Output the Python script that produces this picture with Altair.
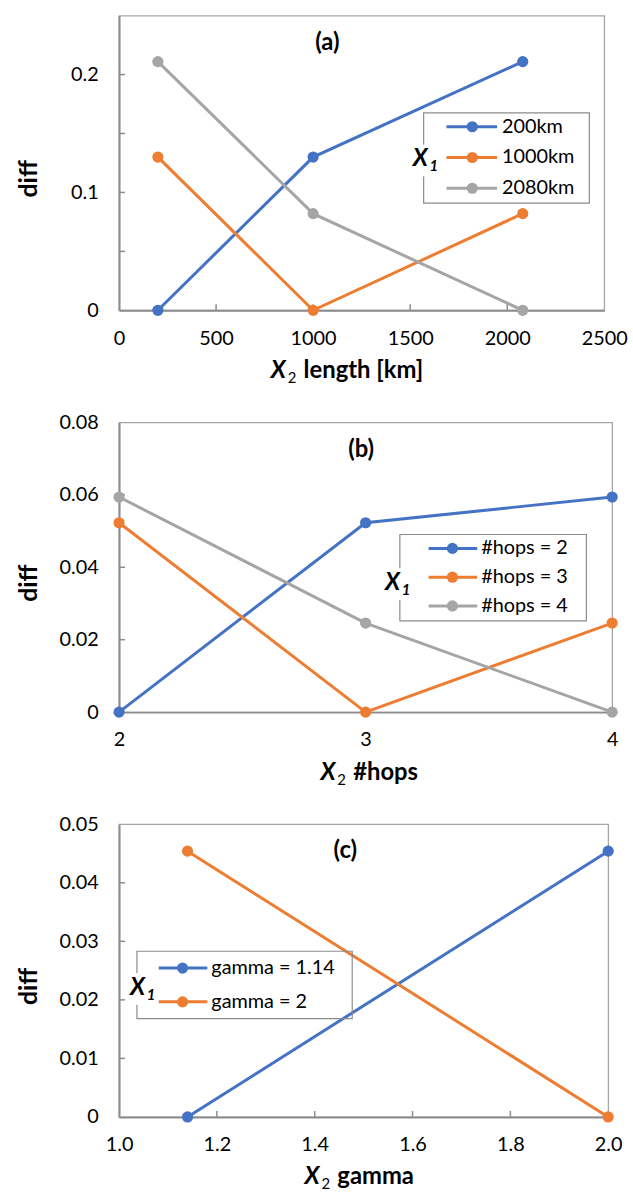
import altair as alt
import pandas as pd

FONT = "Lato"
COLORS = ["#4472C4", "#ED7D31", "#A5A5A5"]
AXIS_GRAY = "#8c8c8c"

# ---------------- data ----------------
# Panel (a)
a_x = [200, 1000, 2080]
a_series = ["200km", "1000km", "2080km"]
a_values = [
    [0.0, 0.130, 0.211],
    [0.130, 0.0, 0.082],
    [0.211, 0.082, 0.0],
]
a_xlabels = [0, 500, 1000, 1500, 2000, 2500]
a_xticks = [500, 1000, 1500, 2000]
a_ylabels = [0, 0.1, 0.2]
a_yticks = [0.05, 0.1, 0.15, 0.2]

# Panel (b)
b_x = [2, 3, 4]
b_series = ["#hops = 2", "#hops = 3", "#hops = 4"]
b_values = [
    [0.0, 0.0523, 0.0594],
    [0.0523, 0.0, 0.0246],
    [0.0594, 0.0246, 0.0],
]
b_xlabels = [2.0, 3.0, 4.0]
b_xticks = []
b_ylabels = [0, 0.02, 0.04, 0.06, 0.08]
b_yticks = [0.02, 0.04, 0.06]

# Panel (c)
c_x = [1.14, 2.0]
c_series = ["gamma = 1.14", "gamma = 2"]
c_values = [
    [0.0, 0.0454],
    [0.0454, 0.0],
]
c_xlabels = [1.0, 1.2, 1.4, 1.6, 1.8, 2.0]
c_xticks = [1.2, 1.4, 1.6, 1.8]
c_ylabels = [0, 0.01, 0.02, 0.03, 0.04, 0.05]
c_yticks = [0.01, 0.02, 0.03, 0.04]


def long_df(xs, series, values):
    rows = []
    for s, vals in zip(series, values):
        for x, v in zip(xs, vals):
            rows.append({"x": float(x), "diff": float(v), "series": s})
    return pd.DataFrame(rows)


def one():
    return pd.DataFrame({"k": [0]})


def txt(text, x, y, size, bold=True, italic=False, align="left", angle=0):
    kw = dict(align=align, baseline="middle", fontSize=size, font=FONT,
              fontWeight="bold" if bold else "normal",
              fontStyle="italic" if italic else "normal", color="black")
    if angle:
        kw["angle"] = angle
    return alt.Chart(pd.DataFrame({"t": [text]})).mark_text(**kw).encode(
        x=alt.value(x), y=alt.value(y), text="t:N")


def panel(xs, series, values, W, H, xdom, ydom, xlabels, xfmt, xticks,
          ylabels, yticks, tag, tag_xy, xtitle, xtitle_x, leg):
    df = long_df(xs, series, values)
    cscale = alt.Scale(domain=series, range=COLORS[:len(series)])
    color = alt.Color("series:N", scale=cscale, legend=None)
    xs_ = alt.Scale(domain=xdom, nice=False, zero=False)
    ys_ = alt.Scale(domain=ydom, nice=False, zero=False)
    xaxis = alt.Axis(values=xlabels, format=xfmt, title=None, ticks=False, grid=False,
                     labelPadding=18, labelFlush=False, labelOverlap=False,
                     labelFont=FONT, labelFontSize=20, labelColor="black",
                     domainColor=AXIS_GRAY, domainWidth=2)
    yaxis = alt.Axis(values=ylabels, format="~g", title=None, ticks=False, grid=False,
                     labelPadding=21, labelFlush=False, labelOverlap=False,
                     labelFont=FONT, labelFontSize=20, labelColor="black",
                     domainColor=AXIS_GRAY, domainWidth=2)
    xenc = alt.X("x:Q", scale=xs_, axis=xaxis)
    yenc = alt.Y("diff:Q", scale=ys_, axis=yaxis)

    base = alt.Chart(df)
    layers = [base.mark_line(strokeWidth=3).encode(x=xenc, y=yenc, color=color)]
    # inside tick marks
    if yticks:
        layers.append(alt.Chart(pd.DataFrame({"v": yticks})).mark_rule(
            color=AXIS_GRAY, strokeWidth=1.5).encode(
            y=alt.Y("v:Q", scale=ys_, axis=yaxis), x=alt.value(0), x2=alt.value(6)))
    if xticks:
        layers.append(alt.Chart(pd.DataFrame({"v": xticks})).mark_rule(
            color=AXIS_GRAY, strokeWidth=1.5).encode(
            x=alt.X("v:Q", scale=xs_, axis=xaxis), y=alt.value(H), y2=alt.value(H - 6)))
    layers.append(base.mark_circle(size=127, opacity=1).encode(x=xenc, y=yenc, color=color))

    # legend
    bx0, bx1, by0, by1 = leg["box"]
    layers.append(alt.Chart(one()).mark_rect(
        fill="transparent", stroke=AXIS_GRAY, strokeWidth=1.2).encode(
        x=alt.value(bx0), x2=alt.value(bx1), y=alt.value(by0), y2=alt.value(by1)))
    lx, ly = leg["x1"]
    layers.append(alt.Chart(one()).mark_rect(fill="white").encode(
        x=alt.value(lx - 2), x2=alt.value(lx + 25), y=alt.value(ly - 15),
        y2=alt.value(ly + 17)))
    layers.append(txt("X", lx, ly, 24, bold=True, italic=True))
    layers.append(txt("1", lx + 17, ly + 7, 15, bold=True, italic=True))

    ldf = pd.DataFrame({"series": series,
                        "ly": [leg["row0"] + i * leg["step"] for i in range(len(series))]})
    lb = alt.Chart(ldf)
    l0, l1, lm, lt = leg["line"]
    layers.append(lb.mark_rule(strokeWidth=3).encode(
        x=alt.value(l0), x2=alt.value(l1), y=alt.Y("ly:Q", scale=None), color=color))
    layers.append(lb.mark_circle(size=127, opacity=1).encode(
        x=alt.value(lm), y=alt.Y("ly:Q", scale=None), color=color))
    layers.append(lb.mark_text(align="left", baseline="middle", fontSize=20,
                               font=FONT, color="black").encode(
        x=alt.value(lt), y=alt.Y("ly:Q", scale=None), text="series:N"))

    # panel tag
    layers.append(txt(tag, tag_xy[0], tag_xy[1], 24, align="center"))
    # x title: X (bold italic) + subscript 2 + rest
    ty = H + 61
    layers.append(txt("X", xtitle_x, ty, 24, italic=True))
    layers.append(txt("2", xtitle_x + 17, ty + 7, 15, bold=False))
    layers.append(txt(xtitle, xtitle_x + 33, ty, 24))
    # y title
    layers.append(txt("diff", -91, H / 2 + 16, 25, align="center", angle=270))

    return alt.layer(*layers).properties(width=W, height=H)


pa = panel(a_x, a_series, a_values, 489, 297, [0, 2500], [0, 0.25],
           a_xlabels, "d", a_xticks, a_ylabels, a_yticks, "(a)", (210, 28),
           "length [km]", 153,
           dict(box=(307, 474, 98, 189), x1=(296, 145), row0=112, step=31,
                line=(330, 381, 356, 386)))

pb = panel(b_x, b_series, b_values, 497, 292, [2.0, 4.0], [0, 0.08],
           b_xlabels, "~g", b_xticks, b_ylabels, b_yticks, "(b)", (244, 28),
           "#hops", 203,
           dict(box=(283, 471, 113, 200), x1=(268, 162), row0=127, step=29,
                line=(312, 361, 336, 365)))

pc = panel(c_x, c_series, c_values, 493, 295, [1.0, 2.0], [0, 0.05],
           c_xlabels, ".1f", c_xticks, c_ylabels, c_yticks, "(c)", (228, 27),
           "gamma", 187,
           dict(box=(18, 235, 128, 196), x1=(11, 165), row0=145, step=34,
                line=(40, 89, 64, 93)))

chart = alt.vconcat(pa, pb, pc, spacing=113, bounds="flush").properties(
    padding={"left": 16, "top": 10, "right": 5, "bottom": 5}
).configure_view(
    stroke="#a6a6a6", strokeWidth=1.3
)

chart.save("out.html", embed_options={"renderer": "svg", "actions": False})
